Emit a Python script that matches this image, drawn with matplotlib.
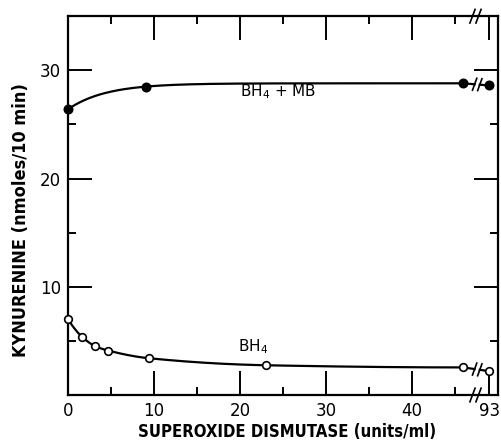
import numpy as np
import matplotlib
matplotlib.use("Agg")
import matplotlib.pyplot as plt

# ---- data ----
mb_sod = [0.0, 9.1, 46.0, 93.0]          # SOD units/ml, BH4 + MB (filled)
mb_kyn = [26.4, 28.5, 28.8, 28.6]
bh4_sod = [0.0, 1.6, 3.2, 4.7, 9.4, 23.0, 46.0, 93.0]   # BH4 (open)
bh4_kyn = [7.0, 5.4, 4.5, 4.1, 3.4, 2.75, 2.55, 2.2]
x_ticks = [0, 10, 20, 30, 40, 93]
x_ticklabels = ["0", "10", "20", "30", "40", "93"]
y_ticks = [10, 20, 30]
y_ticklabels = ["10", "20", "30"]

BREAK_POS = 49.0   # axis position at which the out-of-range value (93) is drawn


def xpos(v):
    v = np.asarray(v, dtype=float)
    return np.where(v > 50, BREAK_POS, v)


def pchip(x, y, xn):
    x = np.asarray(x, float); y = np.asarray(y, float)
    h = np.diff(x); d = np.diff(y) / h
    n = len(x); m = np.zeros(n)
    for k in range(1, n - 1):
        if d[k - 1] * d[k] > 0:
            w1 = 2 * h[k] + h[k - 1]; w2 = h[k] + 2 * h[k - 1]
            m[k] = (w1 + w2) / (w1 / d[k - 1] + w2 / d[k])
    m[0] = ((2 * h[0] + h[1]) * d[0] - h[0] * d[1]) / (h[0] + h[1])
    if np.sign(m[0]) != np.sign(d[0]):
        m[0] = 0
    m[-1] = ((2 * h[-1] + h[-2]) * d[-1] - h[-1] * d[-2]) / (h[-1] + h[-2])
    if np.sign(m[-1]) != np.sign(d[-1]):
        m[-1] = 0
    idx = np.clip(np.searchsorted(x, xn) - 1, 0, n - 2)
    t = (xn - x[idx]) / h[idx]
    h00 = 2 * t**3 - 3 * t**2 + 1; h10 = t**3 - 2 * t**2 + t
    h01 = -2 * t**3 + 3 * t**2; h11 = t**3 - t**2
    return h00 * y[idx] + h10 * h[idx] * m[idx] + h01 * y[idx + 1] + h11 * h[idx] * m[idx + 1]


def expfit(x, y, xn):
    """least-squares fit y = a + b*exp(-x/c) (grid over c)"""
    x = np.asarray(x, float); y = np.asarray(y, float)
    best = None
    for c in np.linspace(0.5, 30, 600):
        A = np.vstack([np.ones_like(x), np.exp(-x / c)]).T
        coef, res, *_ = np.linalg.lstsq(A, y, rcond=None)
        r = np.sum((A @ coef - y) ** 2)
        if best is None or r < best[0]:
            best = (r, c, coef)
    _, c, (a, b) = best
    return a + b * np.exp(-xn / c)


plt.rcParams['font.family'] = ['DejaVu Sans']
fig = plt.figure(figsize=(5.01, 4.42), dpi=100)
ax = fig.add_axes([0.1357, 0.1063, 0.858, 0.857])
ax.set_xlim(0, 50)
ax.set_ylim(0, 35)

lw = 1.6
for sod, kyn, face, ms, fitter in [(mb_sod, mb_kyn, 'black', 6, expfit),
                                   (bh4_sod, bh4_kyn, 'white', 5.5, pchip)]:
    sod = np.array(sod); kyn = np.array(kyn)
    inr = sod <= 50
    xs = np.linspace(sod[inr][0], sod[inr][-1], 300)
    ys = fitter(sod[inr], kyn[inr], xs)
    ax.plot(xs, ys, color='black', lw=lw, zorder=2)
    # broken segment to the off-scale point
    x0 = sod[inr][-1]; y0 = ys[-1]
    x1 = float(xpos(sod[~inr][0])); y1 = kyn[~inr][0]
    g0, g1 = 47.3, 47.9
    ya = y0 + (y1 - y0) * (g0 - x0) / (x1 - x0)
    yb = y0 + (y1 - y0) * (g1 - x0) / (x1 - x0)
    ax.plot([x0, g0], [y0, ya], color='black', lw=lw, zorder=2)
    ax.plot([g1, x1], [yb, y1], color='black', lw=lw, zorder=2)
    for gx, gy in [(g0, ya), (g1, yb)]:
        ax.plot([gx - 0.25, gx + 0.25], [gy - 0.55, gy + 0.55], color='black', lw=1.2, zorder=2)
    ax.plot(xpos(sod), kyn, linestyle='none', marker='o', ms=ms, mfc=face,
            mec='black', mew=1.2, zorder=3, clip_on=False)

# axis break marks
for yb_ax in (0.0, 1.0):
    for dx in (-0.35, 0.35):
        xc = 47.4 + dx
        ax.plot([xc - 0.3, xc + 0.3], [yb_ax - 0.018, yb_ax + 0.018], color='black', lw=1.2,
                transform=ax.get_xaxis_transform(), clip_on=False, zorder=4)

for s in ax.spines.values():
    s.set_linewidth(1.6)

ax.set_xticks(xpos(x_ticks))
ax.set_xticklabels(x_ticklabels)
ax.set_xticks([5, 15, 25, 35, 45], minor=True)
ax.set_yticks(y_ticks)
ax.set_yticklabels(y_ticklabels)
ax.set_yticks([5, 15, 25], minor=True)
ax.tick_params(which='both', direction='in', top=True, right=True, width=1.4, labelsize=12)
ax.tick_params(which='major', length=17, pad=5)
ax.tick_params(which='minor', length=6)

ax.text(20.0, 28.0, r'BH$_4$ + MB', fontsize=11, va='center', ha='left')
ax.text(19.8, 4.5, r'BH$_4$', fontsize=11, va='center', ha='left')

ax.set_xlabel('SUPEROXIDE DISMUTASE (units/ml)', fontsize=12, fontweight='bold',
              fontstretch='condensed')
ax.xaxis.set_label_coords(0.51, -0.075)
ax.set_ylabel('KYNURENINE (nmoles/10 min)', fontsize=13, fontweight='bold',
              fontstretch='condensed')
ax.yaxis.set_label_coords(-0.088, 0.463)

fig.savefig('out.png', dpi=100)
